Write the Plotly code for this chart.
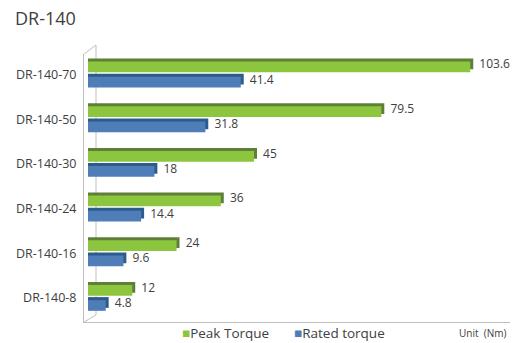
import plotly.graph_objects as go

# ---- data ----
categories = ["DR-140-8", "DR-140-16", "DR-140-24", "DR-140-30", "DR-140-50", "DR-140-70"]
peak_torque = [12, 24, 36, 45, 79.5, 103.6]
rated_torque = [4.8, 9.6, 14.4, 18, 31.8, 41.4]
peak_labels = ["12", "24", "36", "45", "79.5", "103.6"]
rated_labels = ["4.8", "9.6", "14.4", "18", "31.8", "41.4"]
series_names = ["Peak Torque", "Rated torque"]
title_text = "DR-140"
unit_text = "Unit  (Nm)"

# ---- style ----
GREEN, GREEN_D = "#8CC63F", "#5F7F38"
BLUE, BLUE_D = "#4F7DB8", "#2C5C8C"
TXT = "#404040"
FONT = "Century Gothic, Open Sans, sans-serif"
DX, DY = 0.8, 0.067     # 3-D depth (x in data units, y in category units)
W = 0.24
G_OFF, B_OFF = 0.05, -0.29

FIG_W, FIG_H = 515, 343
L, T, RIGHT, BOTTOM = 84, 54, 510, 322

fig = go.Figure()

def add_series(vals, labels, off, col, col_d, name):
    # depth faces (top + right side) – carry the value labels
    fig.add_bar(y=categories, x=[v + DX for v in vals], offset=off + DY, width=W, orientation="h",
                marker=dict(color=col_d, line=dict(width=0)),
                text=[" " + t for t in labels], textposition="outside", constraintext="none",
                textfont=dict(size=12, color=TXT, family=FONT), cliponaxis=False,
                showlegend=False, hoverinfo="skip")
    # front face
    fig.add_bar(y=categories, x=vals, offset=off, width=W, orientation="h", name=name,
                marker=dict(color=col, line=dict(width=0)), showlegend=False)

add_series(peak_torque, peak_labels, G_OFF, GREEN, GREEN_D, series_names[0])
add_series(rated_torque, rated_labels, B_OFF, BLUE, BLUE_D, series_names[1])

PW, PH = RIGHT - L, BOTTOM - T

def px(x):
    return (x - L) / PW

def py(y):
    return (BOTTOM - y) / PH

wall = dict(color="#BFBFBF", width=1)
shapes = [
    dict(type="line", xref="paper", yref="paper", x0=px(96), x1=px(96), y0=py(315), y1=py(45),
         line=wall, layer="below"),
    dict(type="line", xref="paper", yref="paper", x0=0, x1=px(96), y0=1, y1=py(45),
         line=wall, layer="below"),
    dict(type="line", xref="paper", yref="paper", x0=0, x1=px(96), y0=0, y1=py(315),
         line=wall, layer="below"),
]

annotations = [
    dict(text=f"<span style='color:{GREEN}'>■</span>{series_names[0]}", xref="paper", yref="paper",
         x=px(180), y=py(333), xanchor="left", yanchor="middle", showarrow=False,
         font=dict(size=13.5, color=TXT, family=FONT)),
    dict(text=f"<span style='color:{BLUE}'>■</span>{series_names[1]}", xref="paper", yref="paper",
         x=px(292), y=py(333), xanchor="left", yanchor="middle", showarrow=False,
         font=dict(size=13.5, color=TXT, family=FONT)),
    dict(text=unit_text, xref="paper", yref="paper", x=px(482), y=py(333),
         xanchor="center", yanchor="middle", showarrow=False,
         font=dict(size=10, color=TXT, family=FONT)),
]

fig.update_layout(
    width=FIG_W, height=FIG_H,
    margin=dict(l=L, r=FIG_W - RIGHT, t=T, b=FIG_H - BOTTOM, autoexpand=False),
    paper_bgcolor="white", plot_bgcolor="rgba(0,0,0,0)",
    barmode="overlay",
    showlegend=False,
    title=dict(text=title_text, x=15 / FIG_W, xanchor="left", xref="container",
               y=1 - 19 / FIG_H, yanchor="middle", yref="container",
               font=dict(size=18, color=TXT, family=FONT)),
    xaxis=dict(range=[(L - 88) / 3.69, (RIGHT - 88) / 3.69], showgrid=False, zeroline=False,
               showticklabels=False, ticks="", showline=True, linecolor="#BFBFBF", linewidth=1),
    yaxis=dict(type="category", categoryorder="array", categoryarray=categories,
               range=[-0.54, 5.46], showgrid=False, zeroline=False, ticks="",
               showline=True, linecolor="#BFBFBF", linewidth=1,
               tickfont=dict(size=12.5, color=TXT, family=FONT), ticklabelstandoff=4),
    shapes=shapes,
    annotations=annotations,
    font=dict(family=FONT, color=TXT),
)

fig.write_html("out.html", config={"displayModeBar": False},
               post_script="document.body.style.margin='0';")
